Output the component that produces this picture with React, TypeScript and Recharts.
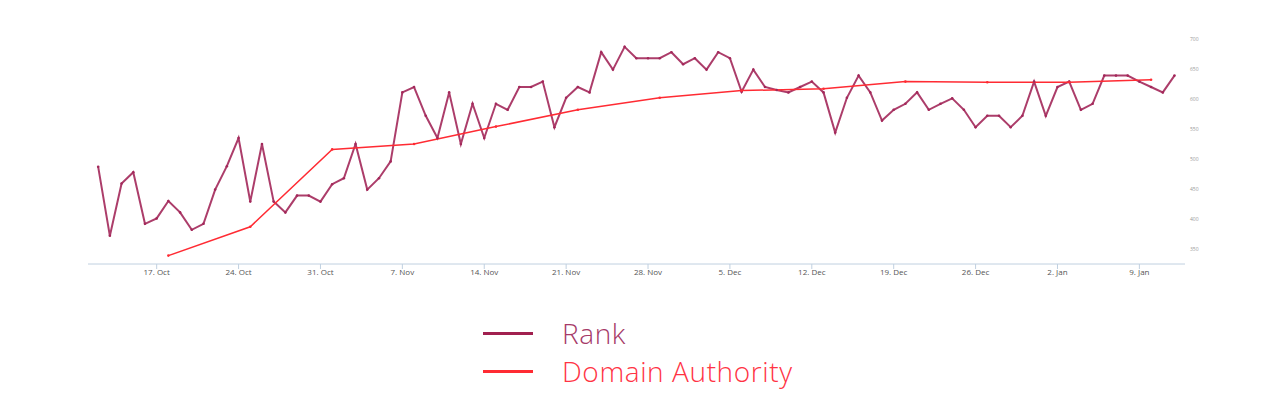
import { LineChart, Line, XAxis, YAxis } from "recharts";

// daily rank, 12 Oct .. 12 Jan (index 0 = 12 Oct)
const rankValues = [
  487, 372, 459, 478, 392, 401, 430, 411, 382, 392,
  449, 488, 535, 429, 525, 429, 411, 439, 439, 429,
  458, 468, 525, 449, 468, 496, 611, 620, 572, 535,
  611, 525, 592, 535, 592, 582, 620, 620, 629, 553,
  602, 620, 611, 678, 649, 687, 668, 668, 668, 678,
  658, 668, 649, 678, 668, 612, 649, 620, 615, 611,
  620, 629, 611, 544, 602, 639, 611, 564, 582, 592,
  611, 582, 592, 601, 582, 553, 572, 572, 553, 572,
  629, 572, 620, 629, 582, 592, 639, 639, 639, 629,
  620, 611, 639,
];

// weekly domain authority readings (day index from 12 Oct)
const daDays = [6, 13, 20, 27, 34, 41, 48, 55, 62, 69, 76, 83, 90];
const daValues = [339, 387, 516, 525, 554, 582, 602, 614, 617, 629, 628, 628, 632];

const xTicks = [5, 12, 19, 26, 33, 40, 47, 54, 61, 68, 75, 82, 89];
const xTickLabels = [
  "17. Oct", "24. Oct", "31. Oct", "7. Nov", "14. Nov", "21. Nov", "28. Nov",
  "5. Dec", "12. Dec", "19. Dec", "26. Dec", "2. Jan", "9. Jan",
];

const rightTicks = [350, 400, 450, 500, 550, 600, 650, 700];
const leftTicks = [0, 1, 2, 3, 4, 5, 6, 7];

const RANK_COLOR = "#a3285a";
const DA_COLOR = "#ff2b33";

const chartData = rankValues.map((rank, i) => {
  const k = daDays.indexOf(i);
  return { day: i, rank, da: k >= 0 ? daValues[k] : null };
});

function LegendBlock() {
  const rows = [
    { name: "Rank", line: "#a1204f", text: "#a63a68" },
    { name: "Domain Authority", line: DA_COLOR, text: "#ff3344" },
  ];
  return (
    <div style={{ position: "absolute", left: 483, top: 314, fontFamily: "'Open Sans', sans-serif" }}>
      {rows.map((r) => (
        <div key={r.name} style={{ display: "flex", alignItems: "center", height: 38 }}>
          <div style={{ width: 50, height: 3, background: r.line, marginRight: 29 }} />
          <span style={{ fontSize: 28, fontWeight: 300, letterSpacing: 0.6, color: r.text, lineHeight: "38px" }}>
            {r.name}
          </span>
        </div>
      ))}
    </div>
  );
}

export default function App() {
  return (
    <div style={{ position: "absolute", left: 0, top: 0, width: 1280, height: 416, background: "#fff" }}>
      <LineChart
        width={1280}
        height={416}
        data={chartData}
        margin={{ top: 36, right: 45, left: 68, bottom: 132 }}
      >
        <XAxis
          dataKey="day"
          type="number"
          domain={[-0.87, 92.9]}
          ticks={xTicks}
          tickFormatter={(v) => xTickLabels[xTicks.indexOf(v)] ?? ""}
          stroke="#c0d0e0"
          tickSize={5}
          tickMargin={0}
          height={20}
          tick={{ fill: "#555", fontSize: 8, fontFamily: "'Open Sans', sans-serif" }}
        />
        <YAxis
          yAxisId="left"
          orientation="left"
          domain={[0, 8]}
          ticks={leftTicks}
          width={20}
          axisLine={false}
          tickLine={false}
          tickSize={3}
          tickMargin={2}
          tick={{ fill: "#b4c0e0", fontSize: 4, fontFamily: "'Open Sans', sans-serif" }}
        />
        <YAxis
          yAxisId="r"
          orientation="right"
          domain={[325, 705]}
          ticks={rightTicks}
          width={50}
          axisLine={false}
          tickLine={false}
          tickSize={3}
          tickMargin={2}
          tick={{ fill: "#999", fontSize: 5, fontFamily: "'Open Sans', sans-serif" }}
        />
        <Line
          yAxisId="r"
          type="linear"
          dataKey="rank"
          name="Rank"
          stroke={RANK_COLOR}
          strokeWidth={2}
          strokeOpacity={0.9}
          dot={{ r: 1.3, fill: RANK_COLOR, stroke: "none" }}
          isAnimationActive={false}
        />
        <Line
          yAxisId="r"
          type="linear"
          dataKey="da"
          name="Domain Authority"
          stroke={DA_COLOR}
          strokeWidth={1.5}
          connectNulls
          dot={{ r: 1.3, fill: DA_COLOR, stroke: "none" }}
          isAnimationActive={false}
        />
      </LineChart>
      <LegendBlock />
    </div>
  );
}
